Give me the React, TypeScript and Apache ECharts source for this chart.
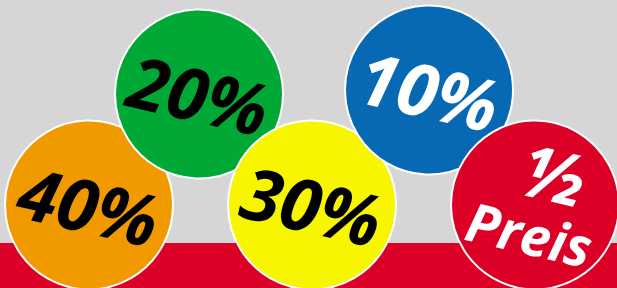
import React, { useEffect, useRef } from "react";
import * as echarts from "echarts";

const labels = ["40%", "20%", "30%", "10%", "½\nPreis"];
const centerX = [89, 199, 312, 429, 535];
const centerY = [205, 94, 205, 90, 205];
const fills = ["#f09a00", "#00a935", "#f7f500", "#0769b3", "#dd0026"];
const textColors = ["#000000", "#000000", "#000000", "#ffffff", "#ffffff"];

export default function App() {
  const ref = useRef<HTMLDivElement>(null);
  useEffect(() => {
    if (!ref.current) return;
    const chart = echarts.init(ref.current, undefined, { renderer: "svg" });
    const data = labels.map((l, i) => ({
      name: l,
      value: [centerX[i], centerY[i]],
      itemStyle: { color: fills[i] },
      label: i === 4
        ? {
            formatter: "{a|½}\n{b|Preis}",
            rotate: -13,
            offset: [1, -7],
            rich: {
              a: { fontSize: 72, fontWeight: "bold", color: "#fff", fontFamily: "Open Sans", lineHeight: 72, padding: [0, 0, 0, 22] },
              b: { fontSize: 54, fontWeight: "bold", color: "#fff", fontFamily: "Open Sans", lineHeight: 56 },
            },
          }
        : { color: textColors[i], rotate: -13, formatter: "{b}" },
    }));
    chart.setOption({
      animation: false,
      backgroundColor: "#d6d6d6",
      grid: { left: 0, right: 0, top: 0, bottom: 0 },
      xAxis: { type: "value", min: 0, max: 617, show: false },
      yAxis: { type: "value", min: 0, max: 288, inverse: true, show: false },
      graphic: [
        { type: "rect", shape: { x: 0, y: 243, width: 617, height: 45 }, style: { fill: "#dd0026" }, z: 0 },
      ],
      series: [
        {
          type: "scatter",
          symbol: "circle",
          symbolSize: [168, 169],
          itemStyle: { borderColor: "#ffffff", borderWidth: 2, opacity: 1 },
          label: {
            show: true,
            position: "inside",
            fontSize: 72,
            fontWeight: "bold",
            fontStyle: "italic",
            fontFamily: "Open Sans",
            letterSpacing: -4,
          },
          emphasis: { disabled: true },
          data,
          z: 2,
        },
      ],
    });
    return () => chart.dispose();
  }, []);
  return <div ref={ref} style={{ position: "absolute", left: 0, top: 0, width: 617, height: 288 }} />;
}
